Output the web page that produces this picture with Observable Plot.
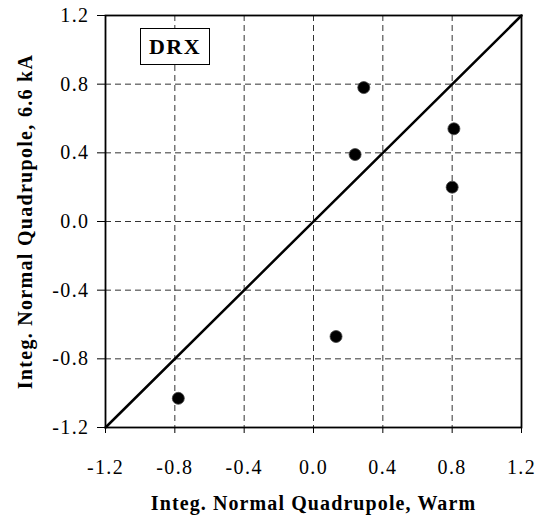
<!DOCTYPE html>
<html>
<head>
<meta charset="utf-8">
<script src="https://cdn.jsdelivr.net/npm/d3@7"></script>
<script src="https://cdn.jsdelivr.net/npm/@observablehq/plot@0.6"></script>
<style>
  body { margin: 0; background: #fff; }
  #wrap { position: relative; width: 538px; height: 520px; }
  #tag { position: absolute; left: 140px; top: 28px; width: 68px; height: 35px;
         border: 1.8px solid #000; font: bold 22px "Liberation Serif", serif;
         display: flex; align-items: center; justify-content: center; letter-spacing: 1.5px; background: #fff; }
</style>
</head>
<body>
<div id="wrap"></div>
<script>
const warm = [0.29, 0.24, 0.81, 0.80, 0.13, -0.78];
const cold = [0.78, 0.39, 0.54, 0.20, -0.67, -1.03];
const ticks = [-1.2, -0.8, -0.4, 0.0, 0.4, 0.8, 1.2];
const gridTicks = [-0.8, -0.4, 0.0, 0.4, 0.8];
const diag = [-1.2, 1.2];
const tag = "DRX";

const pts = warm.map((w, i) => ({w, c: cold[i]}));
const fmt = d => d.toFixed(1);

const chart = Plot.plot({
  width: 538,
  height: 520,
  marginLeft: 105,
  marginRight: 17,
  marginTop: 15,
  marginBottom: 93,
  style: {fontFamily: "'Liberation Serif', serif", fontSize: "20px", color: "#000", background: "#fff"},
  x: {domain: [-1.2, 1.2]},
  y: {domain: [-1.2, 1.2]},
  marks: [
    Plot.gridX(gridTicks, {stroke: "#333", strokeOpacity: 1, strokeDasharray: "6,4"}),
    Plot.gridY(gridTicks, {stroke: "#333", strokeOpacity: 1, strokeDasharray: "6,4"}),
    Plot.axisX(ticks, {tickFormat: fmt, tickSize: 6, tickPadding: 26,
      label: "Integ. Normal Quadrupole, Warm", labelAnchor: "center", labelArrow: "none", labelOffset: 82}),
    Plot.axisY(ticks, {tickFormat: fmt, tickSize: 8, tickPadding: 8,
      label: "Integ. Normal Quadrupole, 6.6 kA", labelAnchor: "center", labelArrow: "none", labelOffset: 88}),
    Plot.frame({stroke: "#000", strokeWidth: 1.8}),
    Plot.line(diag.map(d => ({x: d, y: d})), {x: "x", y: "y", stroke: "#000", strokeWidth: 2.5}),
    Plot.dot(pts, {x: "w", y: "c", r: 6, fill: "#000", stroke: "#444", strokeWidth: 0.8})
  ]
});
const svg = d3.select(chart);
svg.selectAll("g[aria-label='x-axis tick label'], g[aria-label='y-axis tick label']")
  .attr("font-size", 20);
svg.selectAll("g[aria-label='x-axis tick label'] text, g[aria-label='y-axis tick label'] text")
  .style("font-size", "20px").style("letter-spacing", "1.4px");
svg.selectAll("g[aria-label='x-axis label'], g[aria-label='y-axis label']")
  .attr("font-weight", "bold");
svg.selectAll("g[aria-label='x-axis label'] text")
  .style("font-weight", "bold").style("font-size", "20px").style("letter-spacing", "1.1px");
svg.selectAll("g[aria-label='y-axis label'] text")
  .style("font-weight", "bold").style("font-size", "20px").style("letter-spacing", "1.3px");
const wrap = document.getElementById("wrap");
wrap.appendChild(chart);
const t = document.createElement("div");
t.id = "tag"; t.textContent = tag;
wrap.appendChild(t);
</script>
</body>
</html>
